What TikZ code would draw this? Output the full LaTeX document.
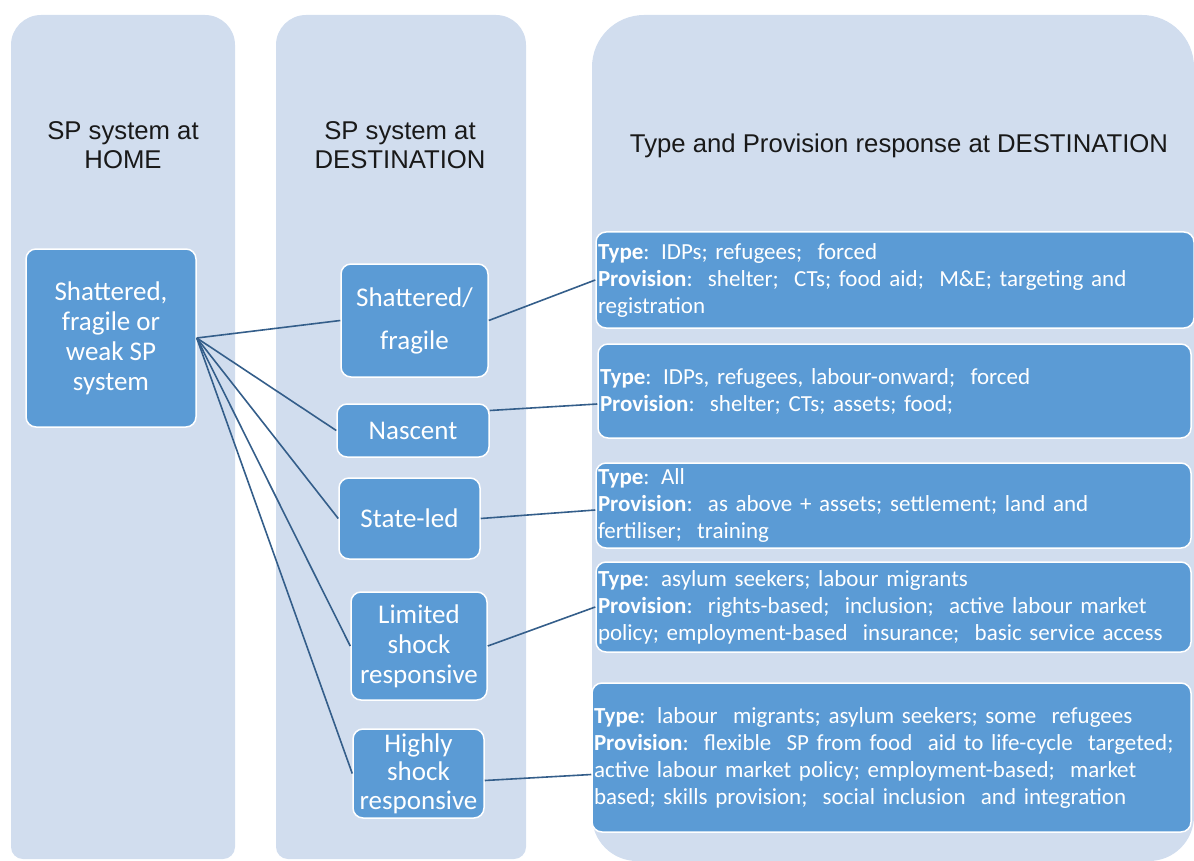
\documentclass[tikz,border=0pt]{standalone}
\usepackage{fontspec}
\setmainfont{Carlito}
\newfontfamily\headfont{Liberation Sans}
\definecolor{colbg}{RGB}{209,221,238}
\definecolor{boxblue}{RGB}{91,155,213}
\definecolor{linkc}{RGB}{52,94,138}
\definecolor{headc}{RGB}{25,25,25}
\tikzset{
  column/.style={fill=colbg},
  headtxt/.style={font=\headfont\fontsize{25.7}{29}\selectfont, text=headc, align=center},
  sysbox/.style={rectangle, rounded corners=10pt, fill=boxblue, draw=white, line width=1.5pt,
    text=white, align=center, font=\fontsize{27}{30}\selectfont, inner sep=2pt},
  respbox/.style={rectangle, rounded corners=10pt, fill=boxblue, draw=white, line width=1.5pt,
    text=white, align=left, font=\fontsize{23}{27}\selectfont, inner xsep=2pt, inner ysep=0pt},
  link/.style={draw=linkc, line width=1.6pt},
}
\begin{document}
\begin{tikzpicture}[x=1pt,y=-1pt]
\useasboundingbox (0,0) rectangle (1194,861);
% columns
\fill[column] (11,300) [rounded corners=30pt] -- (11,15) -- (235,15) -- (235,300) [rounded corners=12pt] -- (235,859) -- (11,859) -- cycle;
\fill[column] (276,300) [rounded corners=30pt] -- (276,15) -- (526,15) -- (526,300) [rounded corners=12pt] -- (526,859) -- (276,859) -- cycle;
\fill[column] (592,450) [rounded corners=52pt] -- (592,15) -- (1194,15) -- (1194,450) [rounded corners=45pt] -- (1194,861) -- (592,861) -- cycle;
% headings
\node[headtxt] (h1) at (123,145) {SP system at\\HOME};
\node[headtxt] (h2) at (400,145) {SP system at\\DESTINATION};
\node[headtxt] (h3) at (899,146) {Type and Provision response at DESTINATION};
% home system
\node[sysbox, minimum width=170pt, minimum height=178pt] (H) at (111,338) {Shattered,\\fragile or\\weak SP\\system};
% destination systems
\node[sysbox, minimum width=147pt, minimum height=113pt] (D1) at (414.5,320.5) {Shattered/\\[13pt]fragile};
\node[sysbox, minimum width=152pt, minimum height=53pt] (D2) at (413,430.5) {Nascent};
\node[sysbox, minimum width=141pt, minimum height=81pt] (D3) at (409.5,518.5) {State-led};
\node[sysbox, minimum width=136pt, minimum height=108pt] (D4) at (419,646) {Limited\\shock\\responsive};
\node[sysbox, minimum width=131pt, minimum height=89pt, font=\fontsize{27}{28.5}\selectfont, inner ysep=0pt] (D5) at (418.5,773.5) {Highly\\shock\\responsive};
% responses
\node[respbox, minimum width=598pt, minimum height=96pt, text width=594pt] (R1) at (895,280)
  {\textbf{Type}: IDPs; refugees;\ \ forced\\\textbf{Provision}:\ \ shelter;\ \ CTs; food aid;\ \ M\&E; targeting and\\registration};
\node[respbox, minimum width=593pt, minimum height=94pt, text width=589pt] (R2) at (894.5,391)
  {\textbf{Type}: IDPs, refugees, labour-onward;\ \ forced\\\textbf{Provision}:\ \ shelter; CTs; assets; food;\\[4pt]};
\node[respbox, minimum width=595pt, minimum height=85pt, text width=591pt] (R3) at (893.5,505.5)
  {\textbf{Type}: All\\\textbf{Provision}:\ \ as above + assets; settlement; land and\\fertiliser;\ \ training};
\node[respbox, minimum width=595pt, minimum height=90pt, text width=591pt] (R4) at (893.5,607)
  {\textbf{Type}: asylum seekers; labour migrants\\\textbf{Provision}:\ \ rights-based;\ \ inclusion;\ \ active labour market\\policy; employment-based\ \ insurance;\ \ basic service access};
\node[respbox, minimum width=599pt, minimum height=149pt, text width=595pt] (R5) at (891.5,757.5)
  {\textbf{Type}: labour\ \ migrants; asylum seekers; some\ \ refugees\\\textbf{Provision}:\ \ flexible\ \ SP from food\ \ aid to life-cycle\ \ targeted;\\active labour market policy; employment-based;\ \ market\\based; skills provision;\ \ social inclusion\ \ and integration};
% connectors home -> destination
\draw[link] (H.east) -- (D1.west);
\draw[link] (H.east) -- (D2.west);
\draw[link] (H.east) -- (D3.west);
\draw[link] (H.east) -- (D4.west);
\draw[link] (H.east) -- (D5.west);
% connectors destination -> response
\draw[link] (D1.east) -- (R1.west);
\draw[link] ([yshift=20pt]D2.east) -- ([yshift=-13pt]R2.west);
\draw[link] (D3.east) -- ([yshift=-4.5pt]R3.west);
\draw[link] (D4.east) -- (R4.west);
\draw[link] ([yshift=-7pt]D5.east) -- ([yshift=-17pt]R5.west);
\end{tikzpicture}
\end{document}
